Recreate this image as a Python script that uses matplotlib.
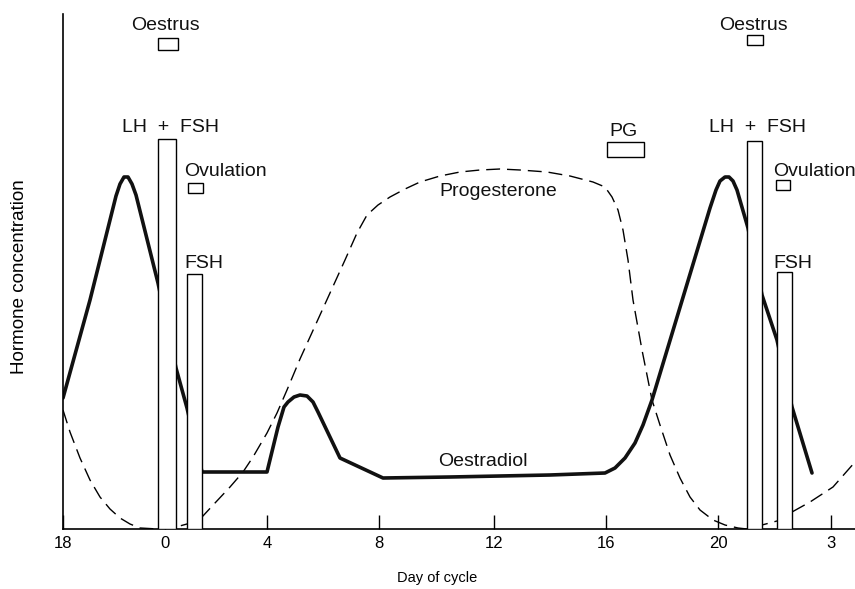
import matplotlib
matplotlib.use("Agg")
import matplotlib.pyplot as plt
from matplotlib.patches import Rectangle

plt.rcParams['font.family'] = ['Liberation Sans', 'DejaVu Sans']

# x positions along the cycle axis (arbitrary position units), y = relative concentration
tick_pos = [63, 165, 267, 379, 494, 606, 718, 831]
tick_labels = ['18', '0', '4', '8', '12', '16', '20', '3']

oestradiol_x = [63, 90, 116, 120, 124, 128, 132, 136, 158, 176,
                187, 202, 267, 278, 284, 288, 294, 300, 307, 313,
                318, 340, 383, 450, 550, 605, 615, 625, 635, 643,
                652, 710, 716, 720, 725, 729, 733, 737, 748, 762,
                777, 792, 812]
oestradiol_y = [131, 229, 333, 345, 352, 352, 345, 334, 246, 161,
                121, 57, 57, 102, 122, 127, 132, 134, 133, 127,
                117, 71, 51, 52, 54, 56, 61, 71, 86, 104,
                129, 321, 339, 348, 352, 352, 348, 339, 301, 234,
                189, 122, 56]

progesterone_x = [63, 70, 80, 90, 100, 110, 120, 130, 140, 158,
                  176, 187, 202, 215, 230, 243, 253, 267, 277, 287,
                  300, 315, 330, 345, 357, 367, 378, 390, 405, 420,
                  440, 460, 480, 500, 520, 547, 570, 593, 605, 612,
                  618, 623, 628, 633, 642, 652, 660, 670, 680, 690,
                  700, 713, 725, 738, 747, 762, 777, 792, 810, 833,
                  855]
progesterone_y = [119, 97, 71, 49, 32, 20, 11, 5, 1, 0,
                  2, 5, 12, 26, 42, 57, 72, 96, 116, 139,
                  170, 203, 236, 269, 296, 314, 324, 332, 340, 347,
                  353, 357, 359, 360, 359, 357, 353, 347, 342, 332,
                  319, 299, 269, 229, 179, 129, 104, 74, 51, 32,
                  19, 9, 4, 1, 0, 4, 8, 17, 27, 42,
                  67]

# gonadotrophin peaks (LH + FSH, FSH)
bar_start = [158, 187, 747, 777]
bar_end = [176, 202, 762, 792]
bar_height = [390, 255, 388, 257]

# event periods (small boxes): (start, end, low, high)
event_names = ['Oestrus', 'Ovulation', 'PG', 'Oestrus', 'Ovulation']
event_start = [158, 188, 607, 747, 776]
event_end = [178, 203, 644, 763, 790]
event_low = [479, 336, 372, 484, 339]
event_high = [491, 346, 387, 494, 349]

fig = plt.figure(figsize=(8.55, 5.89), dpi=100)
ax = fig.add_axes([63 / 855, 60 / 589, 792 / 855, 515 / 589])
ax.set_xlim(63, 855)
ax.set_ylim(0, 515)

ax.plot(progesterone_x, progesterone_y, color='black', lw=1.0,
        dashes=(10, 5), zorder=2)
ax.plot(oestradiol_x, oestradiol_y, color='#111111', lw=2.6,
        solid_capstyle='round', solid_joinstyle='round', zorder=2)

ax.bar(bar_start, bar_height, width=[e - s for s, e in zip(bar_start, bar_end)],
       align='edge', bottom=0, facecolor='white', edgecolor='black',
       linewidth=1.0, zorder=3)

for s, e, lo, hi in zip(event_start, event_end, event_low, event_high):
    ax.add_patch(Rectangle((s, lo), e - s, hi - lo, facecolor='white',
                           edgecolor='black', linewidth=1.0, zorder=3))

fs = 14
txt = dict(ha='center', va='center', fontsize=fs, color='#111111', clip_on=False)
ax.text(165, 504, 'Oestrus', **txt)
ax.text(753, 504, 'Oestrus', **txt)
ax.text(171, 401, 'LH  +  FSH', **txt)
ax.text(757, 401, 'LH  +  FSH', **txt)
ax.text(225, 357, 'Ovulation', **txt)
ax.text(814, 357, 'Ovulation', **txt)
ax.text(204, 266, 'FSH', **txt)
ax.text(793, 266, 'FSH', **txt)
ax.text(623, 398, 'PG', **txt)
ax.text(498, 337, 'Progesterone', **txt)
ax.text(483, 67, 'Oestradiol', **txt)

for side in ['top', 'right']:
    ax.spines[side].set_visible(False)
ax.spines['left'].set_linewidth(1.2)
ax.spines['bottom'].set_linewidth(1.2)
ax.set_yticks([])
ax.set_xticks(tick_pos)
ax.set_xticklabels(tick_labels, fontsize=12)
ax.tick_params(axis='x', direction='in', length=10, width=1.0, pad=5)

ax.set_xlabel('Day of cycle', fontsize=10.5)
ax.xaxis.set_label_coords((437 - 63) / 792, -42 / 515)
ax.set_ylabel('Hormone concentration', fontsize=13.5)
ax.yaxis.set_label_coords(-35 / 792, 252 / 515)

fig.savefig('out.png', dpi=100)
